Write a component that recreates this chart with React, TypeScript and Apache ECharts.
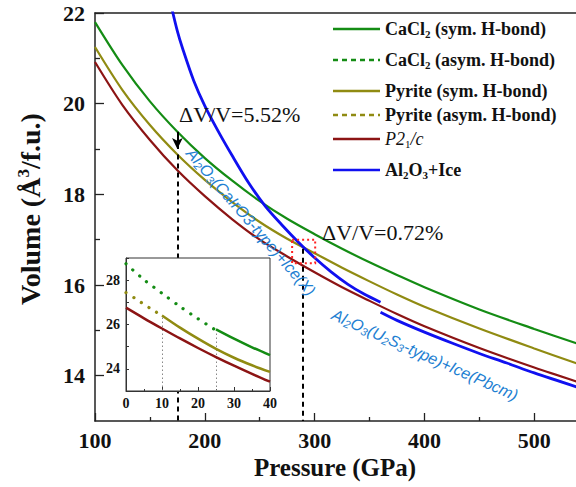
import React, { useEffect, useRef } from 'react';
import * as echarts from 'echarts';

// Main panel: pressure (GPa) vs volume per formula unit (Å^3/f.u.)
const mainPressure = [100, 125, 150, 175, 200, 225, 250, 275, 300, 325, 350, 375, 400, 450, 500, 540];
const cacl2Sym = [21.8, 20.85, 20.05, 19.38, 18.8, 18.3, 17.85, 17.46, 17.12, 16.8, 16.5, 16.22, 15.95, 15.46, 15.03, 14.7];
const pyriteSym = [21.25, 20.3, 19.53, 18.88, 18.32, 17.83, 17.39, 17.02, 16.7, 16.38, 16.08, 15.79, 15.52, 15.04, 14.6, 14.26];
const p21c = [20.92, 19.97, 19.2, 18.53, 17.96, 17.45, 17.0, 16.63, 16.28, 15.95, 15.65, 15.36, 15.09, 14.61, 14.18, 13.86];

// Al2O3 + ice: CaIrO3-type + ice X branch, then U2S3-type + ice Pbcm branch
const alIcePressureA = [169, 175, 180, 190, 200, 212, 225, 240, 255, 270, 285, 300, 315, 330, 345, 360];
const alIceVolumeA = [22.2, 21.6, 21.2, 20.5, 19.95, 19.4, 18.85, 18.25, 17.74, 17.33, 16.95, 16.6, 16.29, 16.02, 15.8, 15.62];
const alIcePressureB = [360, 375, 400, 425, 450, 475, 500, 540];
const alIceVolumeB = [15.4, 15.22, 14.96, 14.72, 14.49, 14.28, 14.06, 13.74];

// Inset: low-pressure range 0-40 GPa
const insetP21cPressure = [0, 5, 10, 15, 20, 25, 30, 35, 40];
const insetP21c = [26.76, 26.28, 25.82, 25.37, 24.94, 24.53, 24.14, 23.77, 23.42];
const insetPyriteAsymPressure = [0, 2.5, 5, 7.5, 10];
const insetPyriteAsym = [27.44, 27.18, 26.91, 26.65, 26.4];
const insetPyriteSymPressure = [10, 15, 20, 25, 30, 35, 40];
const insetPyriteSym = [26.41, 25.86, 25.36, 24.9, 24.5, 24.16, 23.86];
const insetCaCl2AsymPressure = [0, 5, 10, 15, 20, 25];
const insetCaCl2Asym = [28.74, 28.02, 27.41, 26.81, 26.26, 25.74];
const insetCaCl2SymPressure = [25, 30, 35, 40];
const insetCaCl2Sym = [25.78, 25.36, 24.97, 24.62];

// Ticks
const mainXMajor = [100, 200, 300, 400, 500];
const mainXMinor = [150, 250, 350, 450];
const mainYMajor = [14, 16, 18, 20, 22];
const mainYMinor = [15, 17, 19, 21];
const insetYLabels = [24, 26, 28];

// Transition markers
const transitionLow = { pressure: 175, from: 19.38, to: 18.88 };
const transitionHigh = { pressure: 289, from: 16.8 };
const zoomBox = { p0: 279.5, p1: 300.5, v0: 17.0, v1: 16.48 };
const deltaLabels = ['ΔV/V=5.52%', 'ΔV/V=0.72%'];

const legendLabels = [
  'CaCl{s|2} (sym. H-bond)',
  'CaCl{s|2} (asym. H-bond)',
  'Pyrite (sym. H-bond)',
  'Pyrite (asym. H-bond)',
  '{i|P}{n|2}{s|1}{n|/}{i|c}',
  'Al{s|2}O{s|3}+Ice',
];

const GREEN = '#148c14';
const OLIVE = '#908b12';
const RED = '#8c1414';
const BLUE = '#1010f0';
const TEXT_BLUE = '#1e7fd2';
const AXIS = '#222';
const SERIF = '"Liberation Serif", "Times New Roman", serif';
const SANS = '"Liberation Sans", Arial, sans-serif';

const zip = (xs: number[], ys: number[]) => xs.map((x, i) => [x, ys[i]]);

function buildOption(): any {
  const mainLine = (name: string, data: number[][], color: string, width: number, extra: any = {}) => ({
    name,
    type: 'line',
    xAxisIndex: 0,
    yAxisIndex: 0,
    data,
    symbol: 'none',
    showSymbol: false,
    smooth: 0.3,
    lineStyle: { color, width },
    z: 2,
    ...extra,
  });
  const insetLine = (name: string, data: number[][], color: string, dotted: boolean, extra: any = {}) => ({
    name,
    type: 'line',
    xAxisIndex: 3,
    yAxisIndex: 2,
    data,
    symbol: 'none',
    showSymbol: false,
    smooth: 0.3,
    lineStyle: dotted
      ? { color, width: 3.2, type: [0.1, 9], cap: 'round' }
      : { color, width: 2.5 },
    z: 7,
    ...extra,
  });
  // guide lines of the main panel sit below the inset panel (grid z = 5)
  const guide = (dash: any, data: any[], symbol: string[] = ['none', 'none']) => ({
    silent: true,
    z: 3,
    symbol,
    symbolSize: [8, 11],
    label: { show: false },
    lineStyle: { color: '#000', width: 2, type: dash },
    data,
  });

  const legendRowY = [29, 60, 91, 115, 139, 170];
  const legendColors = [GREEN, GREEN, OLIVE, OLIVE, RED, BLUE];
  const legendDashed = [false, true, false, true, false, false];
  const legendItems: any[] = [];
  legendLabels.forEach((label, i) => {
    const y = legendRowY[i];
    legendItems.push({
      type: 'line',
      z: 20,
      shape: { x1: 333, y1: y, x2: 380, y2: y },
      style: {
        stroke: legendColors[i],
        lineWidth: 2.5,
        lineDash: legendDashed[i] ? [5, 4] : null,
      },
    });
    const italic = i === 4;
    legendItems.push({
      type: 'text',
      z: 20,
      x: 385,
      y,
      style: {
        text: label,
        fill: '#111',
        fontFamily: SERIF,
        fontSize: 18,
        fontWeight: italic ? 'normal' : 'bold',
        fontStyle: italic ? 'italic' : 'normal',
        verticalAlign: 'middle',
        align: 'left',
        rich: {
          s: {
            fontFamily: SERIF,
            fontSize: 11,
            fontWeight: italic ? 'normal' : 'bold',
            fontStyle: 'normal',
            fill: '#111',
            padding: [9, 0, 0, 0],
          },
          i: { fontFamily: SERIF, fontSize: 18, fontStyle: 'italic', fill: '#111' },
          n: { fontFamily: SERIF, fontSize: 18, fontStyle: 'italic', fill: '#111' },
        },
      },
    });
  });

  const blueRich = {
    s: {
      fontFamily: SANS,
      fontSize: 11,
      fontStyle: 'italic',
      fill: TEXT_BLUE,
      padding: [7, 0, 0, 0],
    },
  };

  const graphics: any[] = [
    ...legendItems,
    {
      type: 'text',
      z: 20,
      x: 30,
      y: 209,
      rotation: Math.PI / 2,
      style: {
        text: 'Volume (Å{sup|3}/f.u.)',
        fill: '#111',
        fontFamily: SERIF,
        fontSize: 28,
        fontWeight: 'bold',
        align: 'center',
        verticalAlign: 'middle',
        rich: {
          sup: { fontFamily: SERIF, fontSize: 17, fontWeight: 'bold', fill: '#111', padding: [0, 0, 14, 0] },
        },
      },
    },
    {
      type: 'text',
      z: 20,
      x: 335,
      y: 467,
      style: {
        text: 'Pressure (GPa)',
        fill: '#111',
        fontFamily: SERIF,
        fontSize: 25,
        fontWeight: 'bold',
        align: 'center',
        verticalAlign: 'middle',
      },
    },
    {
      type: 'text',
      z: 20,
      x: 179,
      y: 114,
      style: { text: deltaLabels[0], fill: '#111', fontFamily: SERIF, fontSize: 22, verticalAlign: 'middle' },
    },
    {
      type: 'text',
      z: 20,
      x: 322,
      y: 232,
      style: { text: deltaLabels[1], fill: '#111', fontFamily: SERIF, fontSize: 22, verticalAlign: 'middle' },
    },
    {
      type: 'text',
      z: 20,
      x: 251,
      y: 222,
      rotation: -0.86,
      style: {
        text: 'Al{s|2}O{s|3}(CaIrO3-type)+Ice(X)',
        fill: TEXT_BLUE,
        fontFamily: SANS,
        fontSize: 16,
        fontStyle: 'italic',
        align: 'center',
        verticalAlign: 'middle',
        rich: blueRich,
      },
    },
    {
      type: 'text',
      z: 20,
      x: 425,
      y: 355,
      rotation: -0.42,
      style: {
        text: 'Al{s|2}O{s|3}(U{s|2}S{s|3}-type)+Ice(Pbcm)',
        fill: TEXT_BLUE,
        fontFamily: SANS,
        fontSize: 16,
        fontStyle: 'italic',
        align: 'center',
        verticalAlign: 'middle',
        rich: blueRich,
      },
    },
  ];

  const tickLabelStyle = { color: '#111', fontFamily: SERIF, fontWeight: 'bold' };
  const hidden = { show: false };

  return {
    animation: false,
    backgroundColor: '#ffffff',
    grid: [
      { left: 95, top: 13, right: 0, height: 408, show: false },
      {
        left: 126,
        top: 258,
        width: 144,
        height: 133,
        show: true,
        backgroundColor: '#ffffff',
        borderColor: '#333',
        borderWidth: 1,
        z: 5,
      },
    ],
    xAxis: [
      {
        type: 'value',
        gridIndex: 0,
        position: 'bottom',
        min: 100,
        max: 538,
        axisLine: { show: true, onZero: false, lineStyle: { color: AXIS, width: 1.5 } },
        axisTick: { show: true, inside: true, length: 8, customValues: mainXMajor, lineStyle: { color: AXIS, width: 1.3 } },
        splitLine: hidden,
        axisLabel: { ...tickLabelStyle, fontSize: 22, margin: 8, customValues: mainXMajor },
      },
      {
        type: 'value',
        gridIndex: 0,
        position: 'bottom',
        min: 100,
        max: 538,
        axisLine: hidden,
        axisTick: { show: true, inside: true, length: 4, customValues: mainXMinor, lineStyle: { color: AXIS, width: 1.3 } },
        axisLabel: hidden,
        splitLine: hidden,
      },
      {
        type: 'value',
        gridIndex: 0,
        position: 'top',
        min: 100,
        max: 538,
        axisLine: { show: true, onZero: false, lineStyle: { color: AXIS, width: 1.5 } },
        axisTick: hidden,
        axisLabel: hidden,
        splitLine: hidden,
      },
      {
        type: 'value',
        gridIndex: 1,
        position: 'bottom',
        min: 0,
        max: 40,
        interval: 10,
        z: 6,
        axisLine: { show: true, onZero: false, lineStyle: { color: '#333', width: 1 } },
        axisTick: { show: true, inside: true, length: 4, lineStyle: { color: '#333' } },
        minorTick: { show: true, splitNumber: 2, length: 2, lineStyle: { color: '#333' } },
        splitLine: hidden,
        axisLabel: { ...tickLabelStyle, fontSize: 14, margin: 5 },
      },
    ],
    yAxis: [
      {
        type: 'value',
        gridIndex: 0,
        position: 'left',
        min: 13,
        max: 22,
        axisLine: { show: true, onZero: false, lineStyle: { color: AXIS, width: 1.5 } },
        axisTick: { show: true, inside: true, length: 9, customValues: mainYMajor, lineStyle: { color: AXIS, width: 1.3 } },
        axisLabel: { ...tickLabelStyle, fontSize: 22, margin: 10, customValues: mainYMajor },
        splitLine: hidden,
      },
      {
        type: 'value',
        gridIndex: 0,
        position: 'left',
        min: 13,
        max: 22,
        axisLine: hidden,
        axisTick: { show: true, inside: true, length: 5, customValues: mainYMinor, lineStyle: { color: AXIS, width: 1.3 } },
        axisLabel: hidden,
        splitLine: hidden,
      },
      {
        type: 'value',
        gridIndex: 1,
        position: 'left',
        min: 23,
        max: 29,
        interval: 1,
        z: 6,
        axisLine: { show: true, onZero: false, lineStyle: { color: '#333', width: 1 } },
        axisTick: { show: true, inside: true, length: 3, lineStyle: { color: '#333' } },
        splitLine: hidden,
        axisLabel: {
          ...tickLabelStyle,
          fontSize: 14,
          margin: 6,
          formatter: (v: number) => (insetYLabels.includes(v) ? String(v) : ''),
        },
      },
    ],
    series: [
      mainLine('CaCl2 (sym. H-bond)', zip(mainPressure, cacl2Sym), GREEN, 2.2, {
        markLine: guide(
          'solid',
          [[{ coord: [transitionLow.pressure, transitionLow.from] }, { coord: [transitionLow.pressure, transitionLow.to + 0.12] }]],
          ['none', 'arrow']
        ),
      }),
      mainLine('Pyrite (sym. H-bond)', zip(mainPressure, pyriteSym), OLIVE, 2.2, {
        markLine: guide([5, 4], [[{ coord: [transitionHigh.pressure, transitionHigh.from] }, { coord: [transitionHigh.pressure, 13] }]]),
        markArea: {
          silent: true,
          z: 3,
          itemStyle: { color: 'rgba(0,0,0,0)', borderColor: '#ff2020', borderWidth: 2, borderType: [2, 3] },
          data: [[{ coord: [zoomBox.p0, zoomBox.v0] }, { coord: [zoomBox.p1, zoomBox.v1] }]],
        },
      }),
      mainLine('P21/c', zip(mainPressure, p21c), RED, 2.2, {
        markLine: guide([5, 4], [[{ coord: [transitionLow.pressure, transitionLow.to] }, { coord: [transitionLow.pressure, 13] }]]),
      }),
      mainLine('Al2O3+Ice (CaIrO3 + X)', zip(alIcePressureA, alIceVolumeA), BLUE, 2.8),
      mainLine('Al2O3+Ice (U2S3 + Pbcm)', zip(alIcePressureB, alIceVolumeB), BLUE, 2.8),

      insetLine('inset P21/c', zip(insetP21cPressure, insetP21c), RED, false),
      insetLine('inset Pyrite asym', zip(insetPyriteAsymPressure, insetPyriteAsym), OLIVE, true),
      insetLine('inset Pyrite sym', zip(insetPyriteSymPressure, insetPyriteSym), OLIVE, false, {
        markLine: {
          silent: true,
          z: 7,
          symbol: ['none', 'none'],
          label: { show: false },
          lineStyle: { color: '#888', width: 1, type: [1.5, 2.5] },
          data: [[{ coord: [insetPyriteSymPressure[0], 23] }, { coord: [insetPyriteSymPressure[0], insetPyriteSym[0]] }]],
        },
      }),
      insetLine('inset CaCl2 asym', zip(insetCaCl2AsymPressure, insetCaCl2Asym), GREEN, true),
      insetLine('inset CaCl2 sym', zip(insetCaCl2SymPressure, insetCaCl2Sym), GREEN, false, {
        markLine: {
          silent: true,
          z: 7,
          symbol: ['none', 'none'],
          label: { show: false },
          lineStyle: { color: '#888', width: 1, type: [1.5, 2.5] },
          data: [[{ coord: [insetCaCl2SymPressure[0], 23] }, { coord: [insetCaCl2SymPressure[0], insetCaCl2Sym[0]] }]],
        },
      }),
    ],
    graphic: graphics,
  };
}

export default function App() {
  const ref = useRef<HTMLDivElement>(null);
  useEffect(() => {
    if (!ref.current) return;
    const chart = echarts.init(ref.current, undefined, { renderer: 'svg' });
    chart.setOption(buildOption());
    return () => chart.dispose();
  }, []);
  return (
    <div
      ref={ref}
      style={{ position: 'fixed', left: 0, top: 0, width: 576, height: 487, background: '#fff', overflow: 'hidden' }}
    />
  );
}
